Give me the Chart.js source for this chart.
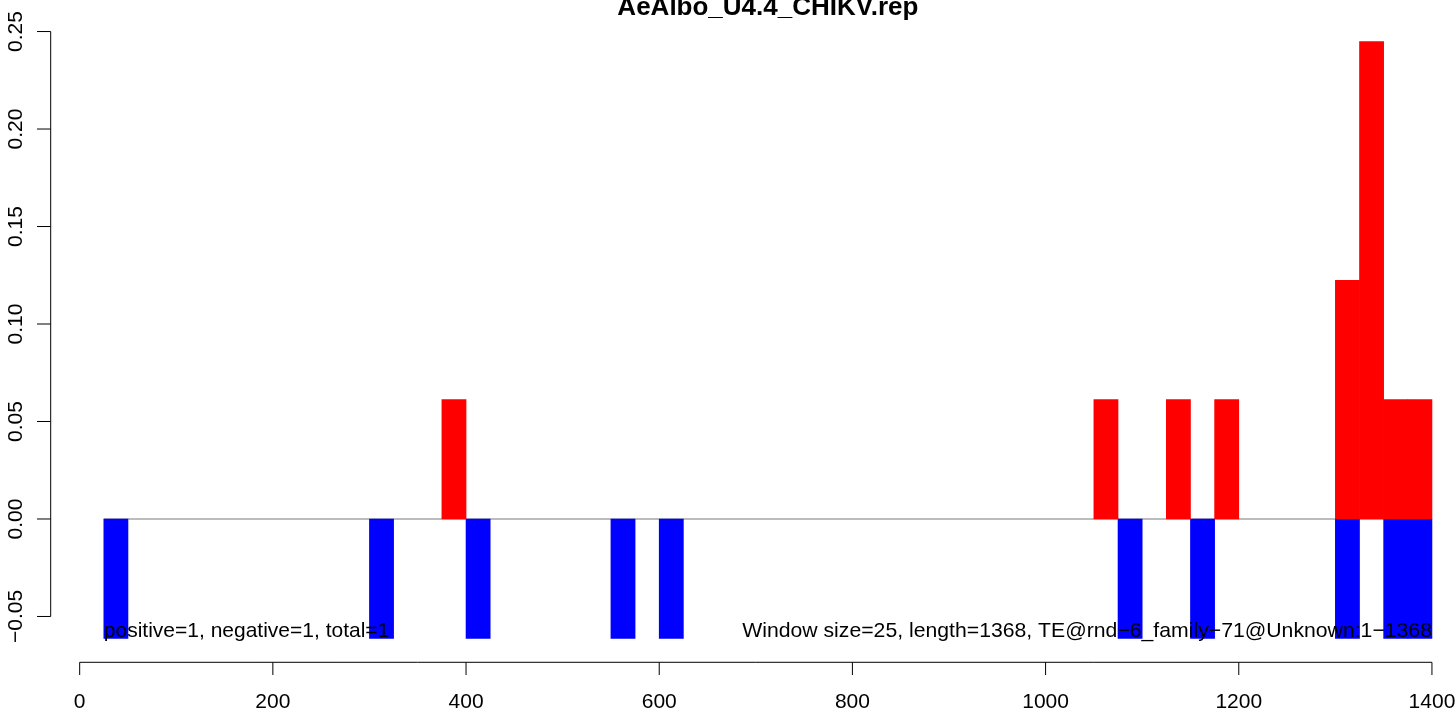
<!DOCTYPE html>
<html>
<head>
<meta charset="utf-8">
<script src="https://cdn.jsdelivr.net/npm/chart.js@4/dist/chart.umd.min.js"></script>
<style>
  html, body { margin: 0; padding: 0; background: #fff; }
  canvas { display: block; }
</style>
</head>
<body>
<canvas id="chart" width="1456" height="713"></canvas>
<script>
// data
const windowSize = 25;
const posStarts = [375, 1050, 1125, 1175, 1300, 1325, 1350, 1375];
const posValues = [0.0612, 0.0612, 0.0612, 0.0612, 0.1224, 0.2449, 0.0612, 0.0612];
const negStarts = [25, 300, 400, 550, 600, 1075, 1150, 1300, 1350, 1375];
const negValues = [-0.0612, -0.0612, -0.0612, -0.0612, -0.0612, -0.0612, -0.0612, -0.0612, -0.0612, -0.0612];
const zeroLineX = [25, 1400];

const xTicks = [0, 200, 400, 600, 800, 1000, 1200, 1400];
const yTicks = [-0.05, 0, 0.05, 0.10, 0.15, 0.20, 0.25];
const yTickLabels = ['\u22120.05', '0.00', '0.05', '0.10', '0.15', '0.20', '0.25'];

const titleText = 'AeAlbo_U4.4_CHIKV.rep';
const leftNote = 'positive=1, negative=1, total=1';
const rightNote = 'Window size=25, length=1368, TE@rnd\u22126_family\u221271@Unknown:1\u22121368';

const FONT = '"Liberation Sans", Arial, Helvetica, sans-serif';

const toPoints = (starts, vals) => starts.map((s, i) => ({ x: s + windowSize / 2, y: vals[i] }));

// R-style axes, title and notes
const rBase = {
  id: 'rBase',
  afterDatasetsDraw(chart) {
    const { ctx, chartArea, scales: { x, y } } = chart;
    ctx.save();
    ctx.strokeStyle = '#000';
    ctx.fillStyle = '#000';
    ctx.lineWidth = 1;

    // x axis
    const xb = chartArea.bottom;
    ctx.beginPath();
    ctx.moveTo(x.getPixelForValue(xTicks[0]), xb);
    ctx.lineTo(x.getPixelForValue(xTicks[xTicks.length - 1]), xb);
    xTicks.forEach(t => {
      const px = x.getPixelForValue(t);
      ctx.moveTo(px, xb);
      ctx.lineTo(px, xb + 12.7);
    });
    ctx.stroke();
    ctx.font = '21px ' + FONT;
    ctx.textAlign = 'center';
    ctx.textBaseline = 'alphabetic';
    xTicks.forEach(t => ctx.fillText(String(t), x.getPixelForValue(t), xb + 45.5));

    // y axis
    const yl = chartArea.left;
    ctx.beginPath();
    ctx.moveTo(yl, y.getPixelForValue(yTicks[0]));
    ctx.lineTo(yl, y.getPixelForValue(yTicks[yTicks.length - 1]));
    yTicks.forEach(t => {
      const py = y.getPixelForValue(t);
      ctx.moveTo(yl, py);
      ctx.lineTo(yl - 13.7, py);
    });
    ctx.stroke();
    yTicks.forEach((t, i) => {
      ctx.save();
      ctx.translate(yl - 29, y.getPixelForValue(t));
      ctx.rotate(-Math.PI / 2);
      ctx.fillText(yTickLabels[i], 0, 0);
      ctx.restore();
    });

    // notes
    const ny = y.getPixelForValue(negValues[0]) - 1.5;
    ctx.textAlign = 'left';
    ctx.fillText(leftNote, x.getPixelForValue(negStarts[0]), ny);
    ctx.save();
    ctx.translate(x.getPixelForValue(zeroLineX[1]), ny);
    ctx.scale(1.01, 1);
    ctx.textAlign = 'right';
    ctx.fillText(rightNote, 0, 0);
    ctx.restore();

    // title
    ctx.font = 'bold 26px ' + FONT;
    ctx.textAlign = 'center';
    ctx.fillText(titleText, (x.left + x.getPixelForValue(1455)) / 2, 15);
    ctx.restore();
  }
};

new Chart(document.getElementById('chart'), {
  type: 'bar',
  data: {
    datasets: [
      {
        label: 'positive',
        data: toPoints(posStarts, posValues),
        backgroundColor: '#ff0000',
        borderWidth: 0,
        order: 1
      },
      {
        label: 'negative',
        data: toPoints(negStarts, negValues),
        backgroundColor: '#0000ff',
        borderWidth: 0,
        order: 1
      },
      {
        type: 'line',
        label: 'zero',
        data: zeroLineX.map(v => ({ x: v, y: 0 })),
        borderColor: '#a6a6a6',
        borderWidth: 1.5,
        pointRadius: 0,
        fill: false,
        order: 2
      }
    ]
  },
  options: {
    responsive: false,
    animation: false,
    grouped: false,
    barPercentage: 1,
    categoryPercentage: 1,
    layout: { padding: { left: 50.7, top: 17.5, right: 0, bottom: 50.7 } },
    scales: {
      x: { type: 'linear', min: -30, max: 1424.9, offset: false, display: false },
      y: { type: 'linear', min: -0.0735, max: 0.2572, display: false }
    },
    plugins: {
      legend: { display: false },
      tooltip: { enabled: false },
      title: { display: false }
    }
  },
  plugins: [rBase]
});
</script>
</body>
</html>
